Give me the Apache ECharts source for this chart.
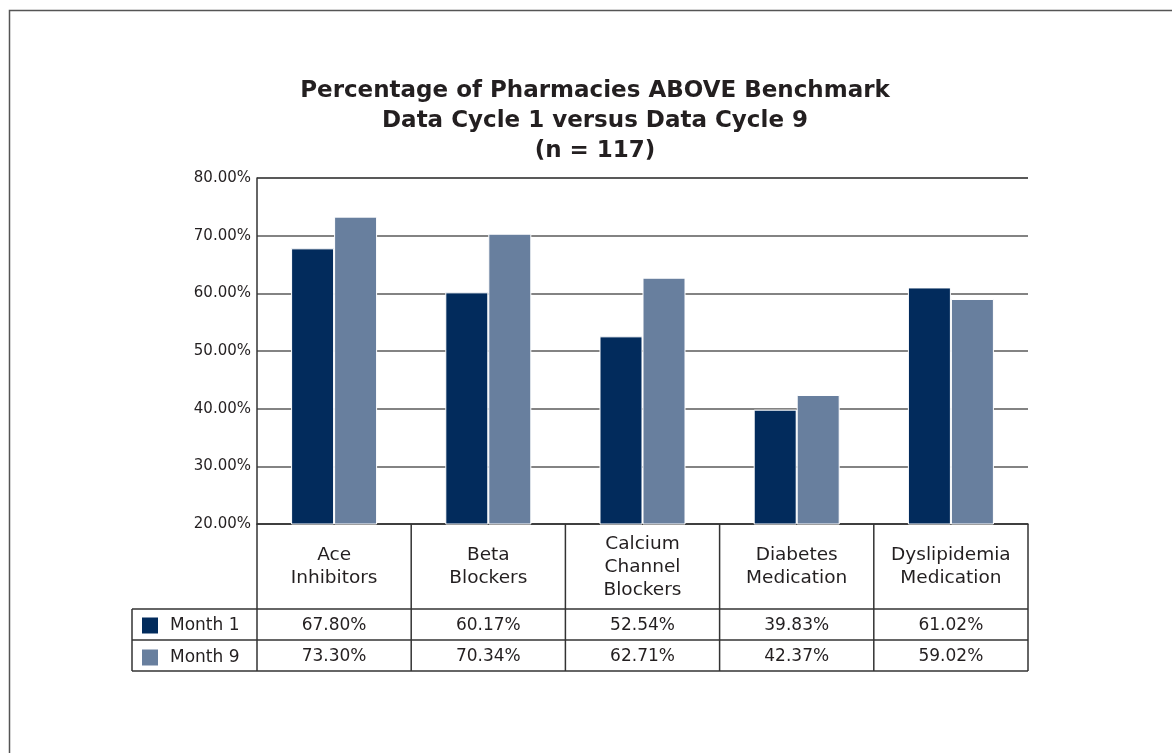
<!DOCTYPE html>
<html><head><meta charset="utf-8">
<script src="https://cdn.jsdelivr.net/npm/echarts@6/dist/echarts.min.js"></script>
<style>html,body{margin:0;padding:0;background:#fff}#c{width:1172px;height:753px}</style>
</head><body><div id="c"></div>
<script>
// ---- data ----
const titleLines = ['Percentage of Pharmacies ABOVE Benchmark', 'Data Cycle 1 versus Data Cycle 9', '(n = 117)'];
const categories = ['Ace\nInhibitors', 'Beta\nBlockers', 'Calcium\nChannel\nBlockers', 'Diabetes\nMedication', 'Dyslipidemia\nMedication'];
const seriesNames = ['Month 1', 'Month 9'];
const month1 = [67.80, 60.17, 52.54, 39.83, 61.02];
const month9 = [73.30, 70.34, 62.71, 42.37, 59.02];
const yMin = 20, yMax = 80, yStep = 10;

// ---- layout / style ----
const FONT = '"DejaVu Sans", "Noto Sans", sans-serif';
const colors = ['#022b5c', '#687f9e'];
const G = { left: 257, right: 1028, top: 178, bottom: 524 };
const rowY = [609, 640, 671];
const legendLeft = 132;
const lineColor = '#333';
const textColor = '#231f20';

const chart = echarts.init(document.getElementById('c'), null, { renderer: 'canvas' });

const option = {
  animation: false,
  backgroundColor: '#fff',
  color: colors,
  title: {
    text: titleLines.join('\n'),
    left: 590, top: 71, textAlign: 'center',
    textStyle: { fontFamily: FONT, fontWeight: 'bold', fontSize: 23, lineHeight: 30, color: textColor }
  },
  legend: {
    orient: 'vertical', left: 142, top: 617, padding: 0,
    itemWidth: 16, itemHeight: 16, itemGap: 15, icon: 'rect',
    data: seriesNames,
    itemStyle: { borderWidth: 0 },
    textStyle: { fontFamily: FONT, fontSize: 17, lineHeight: 16, color: textColor, padding: [0, 0, 0, 7] }
  },
  grid: { left: G.left, right: 1172 - G.right, top: G.top, bottom: 753 - G.bottom, containLabel: false },
  xAxis: {
    type: 'category', data: categories,
    axisLine: { show: true, lineStyle: { color: lineColor, width: 1.5 } },
    axisTick: { show: false }, axisLabel: { show: false }, splitLine: { show: false }
  },
  yAxis: {
    type: 'value', min: yMin, max: yMax, interval: yStep,
    axisLine: { show: true, lineStyle: { color: lineColor, width: 1.5 } },
    axisTick: { show: false },
    axisLabel: {
      formatter: v => v.toFixed(2) + '%', margin: 6,
      fontFamily: FONT, fontSize: 15, color: textColor
    },
    splitLine: { show: true, lineStyle: { color: ['#333', '#5a5a5a', '#5a5a5a', '#5a5a5a', '#5a5a5a', '#5a5a5a', '#222'], width: 1.5 } }
  },
  series: [
    { name: seriesNames[0], type: 'bar', data: month1, barWidth: 43, barGap: '0%',
      itemStyle: { color: colors[0], borderColor: '#fff', borderWidth: 1 }, z: 3 },
    { name: seriesNames[1], type: 'bar', data: month9, barWidth: 43,
      itemStyle: { color: colors[1], borderColor: '#fff', borderWidth: 1 }, z: 3 }
  ]
};
chart.setOption(option);

// ---- table drawn below the plot ----
const els = [];
const ls = { stroke: lineColor, lineWidth: 1.5 };
// frame
els.push({ type: 'polyline', shape: { points: [[9.5, 753], [9.5, 10.5], [1172, 10.5]] }, style: { stroke: '#555', lineWidth: 1.5, fill: null }, silent: true });
// horizontal table lines
rowY.forEach(y => els.push({ type: 'line', shape: { x1: legendLeft, y1: y, x2: G.right, y2: y }, style: ls, silent: true }));
// vertical lines
const colW = (G.right - G.left) / categories.length;
for (let i = 0; i <= categories.length; i++) {
  const x = G.left + i * colW;
  els.push({ type: 'line', shape: { x1: x, y1: G.bottom, x2: x, y2: rowY[2] }, style: ls, silent: true });
}
els.push({ type: 'line', shape: { x1: legendLeft, y1: rowY[0], x2: legendLeft, y2: rowY[2] }, style: ls, silent: true });

const valueRows = [month1, month9];
categories.forEach((c, i) => {
  const x = chart.convertToPixel({ xAxisIndex: 0 }, i);
  els.push({ type: 'text', x: x, y: (G.bottom + rowY[0]) / 2 + 0.5, silent: true,
    style: { text: c, fill: textColor, font: '18.5px ' + FONT, lineHeight: 23, align: 'center', verticalAlign: 'middle' } });
  valueRows.forEach((vals, r) => {
    const top = r === 0 ? rowY[0] : rowY[1];
    els.push({ type: 'text', x: x, y: top + 16.5, silent: true,
      style: { text: vals[i].toFixed(2) + '%', fill: textColor, font: '17px ' + FONT, align: 'center', verticalAlign: 'middle' } });
  });
});
chart.setOption({ graphic: { elements: els } });
</script></body></html>
